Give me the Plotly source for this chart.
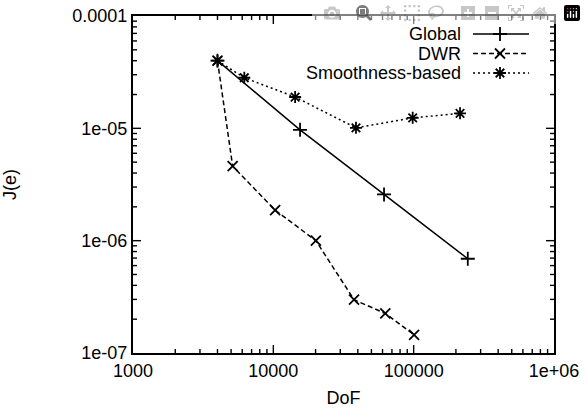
import math
import plotly.graph_objects as go

# ---- data ----
global_dof = [4000, 15500, 61500, 243000]
global_err = [4.0e-5, 9.7e-6, 2.58e-6, 6.9e-7]

dwr_dof = [4000, 5130, 10300, 20100, 37600, 62800, 100700]
dwr_err = [4.0e-5, 4.6e-6, 1.87e-6, 1.0e-6, 2.98e-7, 2.25e-7, 1.45e-7]

smooth_dof = [4000, 6210, 14300, 38800, 98400, 214000]
smooth_err = [4.0e-5, 2.82e-5, 1.9e-5, 1.01e-5, 1.24e-5, 1.36e-5]

series_names = ["Global", "DWR", "Smoothness-based"]

x_tickvals = [1000, 10000, 100000, 1000000]
x_ticktext = ["1000", "10000", "100000", "1e+06"]
y_tickvals = [1e-7, 1e-6, 1e-5, 1e-4]
y_ticktext = ["1e-07", "1e-06", "1e-05", "0.0001"]
minor_digits = [2, 3, 4, 5, 6, 7, 8, 9]
x_minor = [d * v for v in x_tickvals[:-1] for d in minor_digits]
y_minor = [d * v for v in y_tickvals[:-1] for d in minor_digits]

FONT = "Liberation Sans, Arial, Helvetica, sans-serif"
FS = 18
X_RANGE = [3, 6]
Y_RANGE = [-7, -4]
W, H = 586, 412
ML, MR, MT, MB = 133, 32, 16, 59
PW, PH = W - ML - MR, H - MT - MB

styles = [
    dict(dash="solid", symbol="cross-thin"),
    dict(dash="5px,3px", symbol="x-thin"),
    dict(dash="2px,3px", symbol="asterisk"),
]
data = [(global_dof, global_err), (dwr_dof, dwr_err), (smooth_dof, smooth_err)]

fig = go.Figure()
for (xs, ys), st, name in zip(data, styles, series_names):
    fig.add_trace(go.Scatter(
        x=xs, y=ys, mode="lines+markers", name=name,
        line=dict(color="black", width=1.5, dash=st["dash"]),
        marker=dict(symbol=st["symbol"], size=10, color="black",
                    line=dict(color="black", width=1.8)),
        showlegend=False,
    ))


# ---- gnuplot-style key (text left, sample right), placed by plot-area fraction ----
def fx(f):
    return 10 ** (X_RANGE[0] + f * (X_RANGE[1] - X_RANGE[0]))


def fy(f):
    return 10 ** (Y_RANGE[0] + f * (Y_RANGE[1] - Y_RANGE[0]))


leg_x0, leg_x1, leg_xm = 0.8076, 0.9406, 0.8717
leg_text_x = 0.7838
leg_rows = [0.9466, 0.8887, 0.8309]
for st, name, yr in zip(styles, series_names, leg_rows):
    fig.add_trace(go.Scatter(
        x=[fx(leg_x0), fx(leg_x1)], y=[fy(yr), fy(yr)], mode="lines",
        line=dict(color="black", width=1.5, dash=st["dash"]),
        showlegend=False, hoverinfo="skip",
    ))
    fig.add_trace(go.Scatter(
        x=[fx(leg_xm)], y=[fy(yr)], mode="markers",
        marker=dict(symbol=st["symbol"], size=10, color="black",
                    line=dict(color="black", width=1.8)),
        showlegend=False, hoverinfo="skip",
    ))
    fig.add_annotation(
        x=leg_text_x, y=yr, xref="paper", yref="paper", text=name,
        showarrow=False, xanchor="right", yanchor="middle",
        font=dict(family=FONT, size=FS, color="black"),
    )


# ---- inside tick marks on all four sides (gnuplot style) ----
def xfrac(v):
    return (math.log10(v) - X_RANGE[0]) / (X_RANGE[1] - X_RANGE[0])


def yfrac(v):
    return (math.log10(v) - Y_RANGE[0]) / (Y_RANGE[1] - Y_RANGE[0])


tick_line = dict(color="black", width=1.4)
for vals, length in ((x_tickvals, 8), (x_minor, 4)):
    for v in vals:
        f = xfrac(v)
        if 0 < f < 1:
            fig.add_shape(type="line", xref="paper", yref="paper", layer="above",
                          x0=f, x1=f, y0=0, y1=length / PH, line=tick_line)
            fig.add_shape(type="line", xref="paper", yref="paper", layer="above",
                          x0=f, x1=f, y0=1, y1=1 - length / PH, line=tick_line)
for vals, length in ((y_tickvals, 8), (y_minor, 4)):
    for v in vals:
        f = yfrac(v)
        if 0 < f < 1:
            fig.add_shape(type="line", xref="paper", yref="paper", layer="above",
                          y0=f, y1=f, x0=0, x1=length / PW, line=tick_line)
            fig.add_shape(type="line", xref="paper", yref="paper", layer="above",
                          y0=f, y1=f, x0=1, x1=1 - length / PW, line=tick_line)

axis_common = dict(
    type="log", showgrid=False, zeroline=False,
    showline=True, linecolor="black", linewidth=2, mirror=True,
    ticks="", tickfont=dict(family=FONT, size=FS, color="black"),
    ticklabeloverflow="allow",
)

fig.update_layout(
    width=W, height=H,
    margin=dict(l=ML, r=MR, t=MT, b=MB, autoexpand=False),
    plot_bgcolor="white", paper_bgcolor="white",
    font=dict(family=FONT, size=FS, color="black"),
    xaxis=dict(
        axis_common, range=X_RANGE, tickvals=x_tickvals, ticktext=x_ticktext,
        title=dict(text="DoF", font=dict(family=FONT, size=FS), standoff=12),
    ),
    yaxis=dict(
        axis_common, range=Y_RANGE, tickvals=y_tickvals, ticktext=y_ticktext,
        ticksuffix="\u00a0\u2009",
        title=dict(text="J(e)", font=dict(family=FONT, size=FS), standoff=54),
    ),
    showlegend=False,
)

fig.write_html("out.html", post_script="document.body.style.margin='0';")
